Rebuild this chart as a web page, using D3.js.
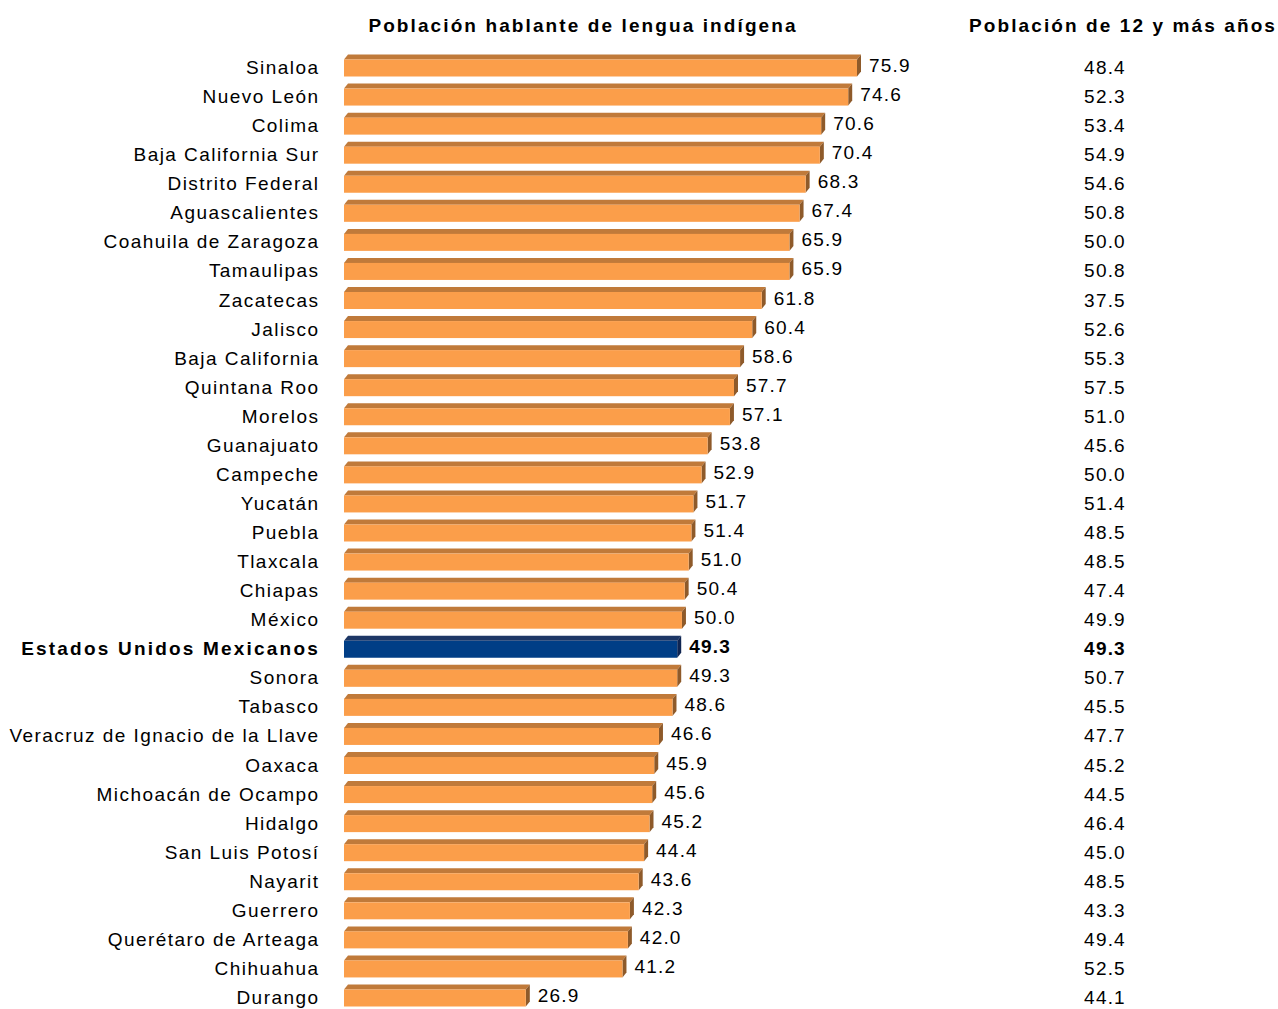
<!DOCTYPE html>
<html><head><meta charset="utf-8">
<script src="https://cdn.jsdelivr.net/npm/d3@7"></script>
<style>body{margin:0;background:#fff}svg{display:block}text{font-family:"Liberation Sans",Arial,sans-serif}</style>
</head><body>
<script>
const categories = ["Sinaloa","Nuevo León","Colima","Baja California Sur","Distrito Federal","Aguascalientes","Coahuila de Zaragoza","Tamaulipas","Zacatecas","Jalisco","Baja California","Quintana Roo","Morelos","Guanajuato","Campeche","Yucatán","Puebla","Tlaxcala","Chiapas","México","Estados Unidos Mexicanos","Sonora","Tabasco","Veracruz de Ignacio de la Llave","Oaxaca","Michoacán de Ocampo","Hidalgo","San Luis Potosí","Nayarit","Guerrero","Querétaro de Arteaga","Chihuahua","Durango"];
const indigena = [75.9,74.6,70.6,70.4,68.3,67.4,65.9,65.9,61.8,60.4,58.6,57.7,57.1,53.8,52.9,51.7,51.4,51.0,50.4,50.0,49.3,49.3,48.6,46.6,45.9,45.6,45.2,44.4,43.6,42.3,42.0,41.2,26.9];
const poblacion12 = [48.4,52.3,53.4,54.9,54.6,50.8,50.0,50.8,37.5,52.6,55.3,57.5,51.0,45.6,50.0,51.4,48.5,48.5,47.4,49.9,49.3,50.7,45.5,47.7,45.2,44.5,46.4,45.0,48.5,43.3,49.4,52.5,44.1];
const national = "Estados Unidos Mexicanos";
const headers = ["Población hablante de lengua indígena","Población de 12 y más años"];

const W=1278,H=1009;
const svg=d3.select("body").append("svg").attr("width",W).attr("height",H);
const x=d3.scaleLinear().domain([0,75.9]).range([344,857]);
const y=d3.scalePoint().domain(categories).range([68,998]);
const fh=17, dep=5, dx=4;
const col={o:{front:"#FB9E4A",top:"#C07A3A",side:"#8E5A2A"},b:{front:"#003E86",top:"#1D3766",side:"#0F2552"}};

svg.append("text").attr("x",583).attr("y",32).attr("text-anchor","middle").attr("font-weight","bold").attr("font-size",19).attr("letter-spacing",2.1).text(headers[0]);
svg.append("text").attr("x",1123).attr("y",32).attr("text-anchor","middle").attr("font-weight","bold").attr("font-size",19).attr("letter-spacing",2.1).text(headers[1]);

const rows=svg.selectAll("g.row").data(categories).join("g").attr("class","row");
rows.each(function(c,i){
  const g=d3.select(this);
  const cy=y(c), x0=x(0), x1=x(indigena[i]);
  const t=c===national?col.b:col.o;
  const yt=cy-fh/2, yb=cy+fh/2;
  g.append("polygon").attr("points",`${x0},${yt} ${x1},${yt} ${x1+dx},${yt-dep} ${x0+dx},${yt-dep}`).attr("fill",t.top);
  g.append("polygon").attr("points",`${x1},${yt} ${x1+dx},${yt-dep} ${x1+dx},${yb-dep} ${x1},${yb}`).attr("fill",t.side);
  g.append("rect").attr("x",x0).attr("y",yt).attr("width",x1-x0).attr("height",fh).attr("fill",t.front);
  const bold=c===national;
  g.append("text").attr("x",bold?320:319.5).attr("y",cy+6).attr("text-anchor","end").attr("font-size",19)
    .attr("font-weight",bold?"bold":null).attr("letter-spacing",bold?2.2:1.45).text(c);
  g.append("text").attr("x",x1+dx+8).attr("y",cy+4).attr("font-size",19).attr("letter-spacing",1.2).attr("font-weight",bold?"bold":null).text(indigena[i].toFixed(1));
  g.append("text").attr("x",1105).attr("y",cy+6).attr("text-anchor","middle").attr("font-size",19).attr("letter-spacing",1.2).attr("font-weight",bold?"bold":null).text(poblacion12[i].toFixed(1));
});
</script>
</body></html>
